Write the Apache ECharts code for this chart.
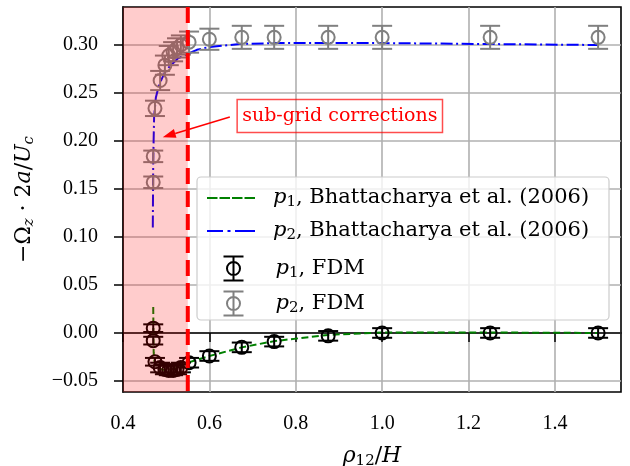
<!DOCTYPE html>
<html>
<head>
<meta charset="utf-8">
<script src="https://cdn.jsdelivr.net/npm/echarts@6/dist/echarts.min.js"></script>
<style>
  html, body { margin: 0; padding: 0; background: #fff; }
  #chart { width: 630px; height: 466px; }
</style>
</head>
<body>
<div id="chart"></div>
<script>
// FDM sample positions (rho_12 / H)
const fdmX = [0.470, 0.470, 0.474, 0.486, 0.497, 0.506, 0.516, 0.525, 0.534, 0.553, 0.600, 0.675, 0.750, 0.875, 1.000, 1.250, 1.500];
const p1Fdm = [0.005, -0.008, -0.030, -0.036, -0.038, -0.039, -0.039, -0.038, -0.036, -0.031, -0.024, -0.015, -0.009, -0.003, 0.000, 0.000, 0.000];
const p1Err = [0.004, 0.004, 0.004, 0.005, 0.005, 0.005, 0.005, 0.005, 0.005, 0.005, 0.005, 0.005, 0.005, 0.005, 0.005, 0.005, 0.005];
const p2Fdm = [0.157, 0.184, 0.234, 0.263, 0.279, 0.289, 0.293, 0.297, 0.300, 0.303, 0.306, 0.308, 0.308, 0.308, 0.308, 0.308, 0.308];
const p2Err = [0.006, 0.006, 0.008, 0.010, 0.010, 0.010, 0.010, 0.010, 0.010, 0.011, 0.011, 0.012, 0.012, 0.012, 0.012, 0.012, 0.012];

// Bhattacharya et al. (2006) curves
const p1RefX = [0.470, 0.4705, 0.471, 0.473, 0.480, 0.490, 0.500, 0.520, 0.550, 0.600, 0.675, 0.750, 0.875, 1.000, 1.250, 1.500];
const p1RefY = [0.027, 0.000, -0.020, -0.030, -0.036, -0.038, -0.039, -0.037, -0.031, -0.024, -0.015, -0.0085, -0.002, 0.0005, 0.0005, 0.000];
const p2RefX = [0.469, 0.470, 0.472, 0.476, 0.482, 0.490, 0.500, 0.527, 0.571, 0.600, 0.670, 0.750, 1.000, 1.250, 1.500];
const p2RefY = [0.110, 0.180, 0.225, 0.245, 0.256, 0.265, 0.274, 0.286, 0.295, 0.298, 0.301, 0.302, 0.302, 0.301, 0.300];

// sub-grid region and annotation
const subGrid = [0.4, 0.55];
const annotXY = [0.492, 0.204];
const annotTextXY = [0.902, 0.226];

const xTicks = [0.4, 0.6, 0.8, 1.0, 1.2, 1.4];
const yTicks = [-0.05, 0.00, 0.05, 0.10, 0.15, 0.20, 0.25, 0.30];

const SERIF = '"DejaVu Serif", serif';
const NUMF = '"Liberation Serif", serif';

const names = [
  'p1, Bhattacharya et al. (2006)',
  'p2, Bhattacharya et al. (2006)',
  'p1, FDM',
  'p2, FDM'
];
const labelRich = [
  '{i|p}{s|1}{n|, Bhattacharya et al. (2006)}',
  '{i|p}{s|2}{n|, Bhattacharya et al. (2006)}',
  '{i|p}{s|1}{n|, FDM}',
  '{i|p}{s|2}{n|, FDM}'
];
const mkRich = (size, sub, drop) => ({
  n: { fontFamily: SERIF, fontSize: size, color: '#000', lineHeight: size + 4 },
  i: { fontFamily: SERIF, fontSize: size, color: '#000', fontStyle: 'italic', lineHeight: size + 4 },
  s: { fontFamily: SERIF, fontSize: sub, color: '#000', padding: [drop, 0, 0, 0], lineHeight: size + 4 },
  si: { fontFamily: SERIF, fontSize: sub, color: '#000', fontStyle: 'italic', padding: [drop, 0, 0, 0], lineHeight: size + 4 }
});
const legendRich = mkRich(21, 15, 9);
const nameRich = mkRich(22, 15, 10);

// legend glyphs: dashed / dash-dot strokes and an error bar with an open circle
const dashIcon = 'path://M0 0h10.5v2H0z M12.5 0h10.5v2H12.5z M25 0h10.5v2H25z M37.5 0h10.5v2H37.5z';
const dashDotIcon = 'path://M0 0h16v2H0z M20.5 0h3v2H20.5z M28 0h20v2H28z';
const errIcon = 'path://M10 0 L10 24 M0 0 L20 0 M0 24 L20 24 M16.5 12 A6.5 6.5 0 1 1 3.5 12 A6.5 6.5 0 1 1 16.5 12';

const zip = (xs, ys) => xs.map((x, i) => [x, ys[i]]);
const zip3 = (xs, ys, es) => xs.map((x, i) => [x, ys[i], es[i]]);

function renderErr(params, api) {
  const x = api.value(0), y = api.value(1), e = api.value(2);
  const c = api.coord([x, y]);
  const hi = api.coord([x, y + e]);
  const lo = api.coord([x, y - e]);
  const color = api.visual('color');
  const st = { stroke: color, lineWidth: 2, fill: null };
  const w = 10;
  return {
    type: 'group',
    children: [
      { type: 'line', shape: { x1: c[0], y1: hi[1], x2: c[0], y2: lo[1] }, style: st },
      { type: 'line', shape: { x1: c[0] - w, y1: hi[1], x2: c[0] + w, y2: hi[1] }, style: st },
      { type: 'line', shape: { x1: c[0] - w, y1: lo[1], x2: c[0] + w, y2: lo[1] }, style: st },
      { type: 'circle', shape: { cx: c[0], cy: c[1], r: 6.5 }, style: { stroke: color, lineWidth: 2, fill: 'none' } }
    ]
  };
}

const chart = echarts.init(document.getElementById('chart'));

chart.setOption({
  animation: false,
  grid: {
    left: 123, right: 9, top: 7, bottom: 74, outerBoundsMode: 'none',
    show: true, borderColor: '#000', borderWidth: 1.6, backgroundColor: 'transparent'
  },
  xAxis: {
    type: 'value', min: 0.4, max: 1.553,
    name: '{i|ρ}{s|12}{n|/}{i|H}',
    nameLocation: 'middle', nameGap: 51,
    nameTextStyle: { rich: nameRich },
    axisLine: { lineStyle: { color: '#000', width: 1.6 } },
    axisTick: { length: 9, lineStyle: { color: '#000', width: 1.5 }, customValues: xTicks },
    axisLabel: { customValues: xTicks, formatter: v => v.toFixed(1), fontFamily: NUMF, fontSize: 20, color: '#000', margin: 22 },
    splitLine: { show: true, lineStyle: { color: '#b0b0b0', width: 1.6 } }
  },
  yAxis: {
    type: 'value', min: -0.0615, max: 0.3396,
    name: '{n|−Ω}{si|z}{n| · 2}{i|a}{n|/}{i|U}{si|c}',
    nameLocation: 'middle', nameGap: 86, nameRotate: 90,
    nameTextStyle: { rich: nameRich },
    axisLine: { lineStyle: { color: '#000', width: 1.6 } },
    axisTick: { length: 9, lineStyle: { color: '#000', width: 1.5 }, customValues: yTicks },
    axisLabel: { customValues: yTicks, formatter: v => (v < 0 ? '\u2212' : '') + Math.abs(v).toFixed(2), fontFamily: NUMF, fontSize: 20, color: '#000', margin: 25 },
    splitLine: { show: true, lineStyle: { color: '#b0b0b0', width: 1.6 } }
  },
  legend: [
    {
      data: [
        { name: names[0], icon: dashIcon, itemStyle: { color: '#008000', borderWidth: 0 } },
        { name: names[1], icon: dashDotIcon, itemStyle: { color: '#0000ff', borderWidth: 0 } }
      ],
      orient: 'vertical', left: 207, top: 186, padding: 0,
      itemWidth: 48, itemHeight: 2, itemGap: 9, selectedMode: false,
      formatter: name => labelRich[names.indexOf(name)],
      textStyle: { rich: legendRich, padding: [0, 0, 0, 13] }
    },
    {
      data: [
        { name: names[2], icon: errIcon, itemStyle: { color: 'none', borderColor: '#000', borderWidth: 2 } },
        { name: names[3], icon: errIcon, itemStyle: { color: 'none', borderColor: '#808080', borderWidth: 2 } }
      ],
      orient: 'vertical', left: 221, top: 254, padding: 0,
      itemWidth: 20, itemHeight: 24, itemGap: 6, selectedMode: false,
      formatter: name => labelRich[names.indexOf(name)],
      textStyle: { rich: legendRich, padding: [0, 0, 0, 27] }
    }
  ],
  series: [
    {
      name: names[0], type: 'line', data: zip(p1RefX, p1RefY), showSymbol: false, symbol: 'none', z: 3,
      lineStyle: { color: '#008000', width: 2, type: [7, 3.5] }, itemStyle: { color: '#008000' }
    },
    {
      name: names[1], type: 'line', data: zip(p2RefX, p2RefY), showSymbol: false, symbol: 'none', z: 3,
      lineStyle: { color: '#0000ff', width: 2, type: [12, 3.5, 2, 3.5] }, itemStyle: { color: '#0000ff' }
    },
    {
      name: names[2], type: 'custom', data: zip3(fdmX, p1Fdm, p1Err), renderItem: renderErr,
      encode: { x: 0, y: 1 }, itemStyle: { color: '#000' }, z: 4
    },
    {
      name: names[3], type: 'custom', data: zip3(fdmX, p2Fdm, p2Err), renderItem: renderErr,
      encode: { x: 0, y: 1 }, itemStyle: { color: '#808080' }, z: 4
    },
    {
      // translucent sub-grid region
      type: 'custom', data: [subGrid], z: 10, silent: true,
      encode: { x: [0, 1] },
      renderItem: (params, api) => {
        const cs = params.coordSys;
        const a = api.coord([api.value(0), 0])[0];
        const b = api.coord([api.value(1), 0])[0];
        return { type: 'rect', shape: { x: a, y: cs.y, width: b - a, height: cs.height }, style: { fill: 'rgba(255,0,0,0.2)' } };
      }
    },
    {
      // sub-grid limit
      type: 'custom', data: [[subGrid[1]]], z: 11, silent: true,
      encode: { x: 0 },
      renderItem: (params, api) => {
        const cs = params.coordSys;
        const a = api.coord([api.value(0), 0])[0];
        return { type: 'line', shape: { x1: a, y1: cs.y, x2: a, y2: cs.y + cs.height }, style: { stroke: '#ff0000', lineWidth: 4, lineDash: [16, 7] } };
      }
    }
  ]
});

// annotation + legend frame
const tip = chart.convertToPixel({ gridIndex: 0 }, annotXY);
const tc = chart.convertToPixel({ gridIndex: 0 }, annotTextXY);
const boxHalfW = 102;
const start = [tc[0] - boxHalfW - 8, tc[1] + 1];
const dx = tip[0] - start[0], dy = tip[1] - start[1];
const len = Math.sqrt(dx * dx + dy * dy);
const ux = dx / len, uy = dy / len;
const headL = 13, headW = 4.5;
const base = [tip[0] - ux * headL, tip[1] - uy * headL];

chart.setOption({
  graphic: [
    {
      type: 'rect', z: 3, silent: true,
      shape: { x: 197, y: 177, width: 412, height: 143, r: 4 },
      style: { fill: 'rgba(255,255,255,0.8)', stroke: '#cccccc', lineWidth: 1.2 }
    },
    {
      type: 'text', z: 12, silent: true,
      style: {
        text: 'sub-grid corrections', x: tc[0], y: tc[1],
        align: 'center', verticalAlign: 'middle',
        fill: '#ff0000', fontFamily: SERIF, fontSize: 19,
        padding: [7, 5, 7, 5], borderColor: 'rgba(255,0,0,0.7)', borderWidth: 1.5
      }
    },
    {
      type: 'line', z: 12, silent: true,
      shape: { x1: start[0], y1: start[1], x2: base[0], y2: base[1] },
      style: { stroke: '#ff0000', lineWidth: 1.5 }
    },
    {
      type: 'polygon', z: 12, silent: true,
      shape: { points: [tip, [base[0] - uy * headW, base[1] + ux * headW], [base[0] + uy * headW, base[1] - ux * headW]] },
      style: { fill: '#ff0000' }
    }
  ]
});
</script>
</body>
</html>
